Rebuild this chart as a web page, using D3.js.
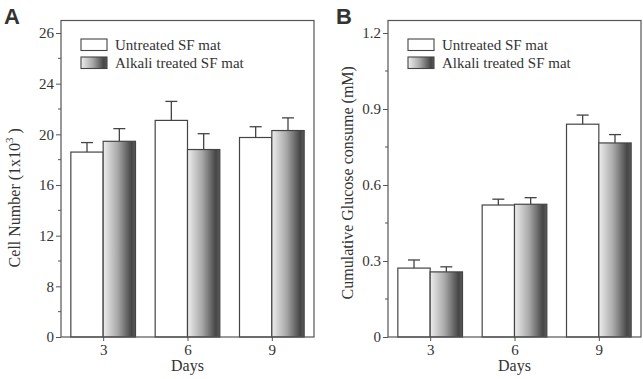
<!DOCTYPE html>
<html>
<head>
<meta charset="utf-8">
<script src="https://cdn.jsdelivr.net/npm/d3@7"></script>
<style>
  body { margin: 0; background: #fff; }
  text { font-family: "Liberation Serif", "Times New Roman", serif; fill: #333; }
</style>
</head>
<body>
<div id="chart"></div>
<script>
const days = [3, 6, 9];
const seriesNames = ['Untreated SF mat', 'Alkali treated SF mat'];

// panel A: cell number (x10^3)
const cellUntreated = [18.6, 21.1, 19.75];
const cellUntreatedErr = [0.75, 1.5, 0.85];
const cellAlkali = [19.45, 18.8, 20.3];
const cellAlkaliErr = [1.0, 1.25, 1.0];
const cellTicks = [0, 8, 12, 16, 20, 24, 26];
const cellMinor = [4, 10, 14, 18, 22, 25];

// panel B: cumulative glucose consume (mM)
const gluUntreated = [0.272, 0.521, 0.84];
const gluUntreatedErr = [0.032, 0.023, 0.036];
const gluAlkali = [0.257, 0.524, 0.766];
const gluAlkaliErr = [0.02, 0.026, 0.033];
const gluTicks = [0, 0.3, 0.6, 0.9, 1.2];
const gluMinor = [0.15, 0.45, 0.75, 1.05];

const options = { width: 643, height: 379 };
const plotTop = 20.5, plotBottom = 337;
const axisColor = '#555';

const svg = d3.select('#chart')
  .append('svg')
  .attr('width', options.width)
  .attr('height', options.height);

const defs = svg.append('defs');
const grad = defs.append('linearGradient')
  .attr('id', 'alkali')
  .attr('x1', '0%').attr('x2', '100%')
  .attr('y1', '0%').attr('y2', '0%');
grad.append('stop').attr('offset', '0%').attr('stop-color', '#eeeeee');
grad.append('stop').attr('offset', '45%').attr('stop-color', '#a8a8a8');
grad.append('stop').attr('offset', '88%').attr('stop-color', '#454545');
grad.append('stop').attr('offset', '100%').attr('stop-color', '#5c5c5c');

function drawPanel(cfg) {
  const x = d3.scaleLinear().domain([1.5, 10.5]).range([cfg.left, cfg.right]);
  const y = cfg.y;
  const g = svg.append('g');
  const bw = x(1.15) - x(0);

  const bars = [
    { vals: cfg.a, errs: cfg.aErr, off: -1, fill: '#fff' },
    { vals: cfg.b, errs: cfg.bErr, off: 0, fill: 'url(#alkali)' },
  ];

  bars.forEach(s => {
    days.forEach((d, i) => {
      const x0 = x(d) + s.off * bw;
      const cx = x0 + bw / 2;
      const top = y(s.vals[i]);
      const etop = y(s.vals[i] + s.errs[i]);
      g.append('line')
        .attr('x1', cx).attr('x2', cx)
        .attr('y1', top).attr('y2', etop)
        .attr('stroke', '#444').attr('stroke-width', 1.3);
      g.append('line')
        .attr('x1', cx - 6).attr('x2', cx + 6)
        .attr('y1', etop).attr('y2', etop)
        .attr('stroke', '#444').attr('stroke-width', 1.3);
      g.append('rect')
        .attr('x', x0).attr('y', top)
        .attr('width', bw).attr('height', plotBottom - top)
        .attr('fill', s.fill)
        .attr('stroke', '#444').attr('stroke-width', 1.2);
    });
  });

  // frame
  g.append('rect')
    .attr('x', cfg.left).attr('y', plotTop)
    .attr('width', cfg.right - cfg.left).attr('height', plotBottom - plotTop)
    .attr('fill', 'none').attr('stroke', axisColor).attr('stroke-width', 1.2);

  // y axis
  const yAxis = g.append('g')
    .attr('transform', `translate(${cfg.left},0)`)
    .call(d3.axisLeft(y).tickValues(cfg.ticks).tickSize(5).tickPadding(2).tickFormat(cfg.fmt));
  yAxis.select('.domain').remove();
  yAxis.selectAll('line').attr('stroke', axisColor);
  yAxis.selectAll('text')
    .attr('font-size', 15)
    .style('font-family', '"Liberation Serif", serif')
    .attr('fill', '#333');
  g.append('g')
    .selectAll('line')
    .data(cfg.minor)
    .enter()
    .append('line')
    .attr('x1', cfg.left - 3).attr('x2', cfg.left)
    .attr('y1', d => y(d)).attr('y2', d => y(d))
    .attr('stroke', axisColor);

  // x axis
  const xAxis = g.append('g')
    .attr('transform', `translate(0,${plotBottom})`)
    .call(d3.axisBottom(x).tickValues(days).tickSize(4).tickPadding(3));
  xAxis.select('.domain').remove();
  xAxis.selectAll('line').attr('stroke', axisColor);
  xAxis.selectAll('text')
    .attr('font-size', 15)
    .style('font-family', '"Liberation Serif", serif')
    .attr('fill', '#333');

  g.append('text')
    .attr('x', (cfg.left + cfg.right) / 2)
    .attr('y', 371)
    .attr('text-anchor', 'middle')
    .attr('font-size', 16)
    .text('Days');

  // y title
  const yt = g.append('text')
    .attr('transform', `translate(${cfg.titleX},${(plotTop + plotBottom) / 2 + cfg.titleShift}) rotate(-90)`)
    .attr('text-anchor', 'middle')
    .attr('font-size', 16);
  cfg.title(yt);

  // panel letter
  g.append('text')
    .attr('x', cfg.letterX).attr('y', 24)
    .style('font-family', '"Liberation Sans", Arial, sans-serif')
    .attr('font-weight', 'bold')
    .attr('font-size', 22)
    .attr('fill', '#111')
    .text(cfg.letter);

  // legend
  const lg = g.append('g').attr('transform', `translate(${cfg.left + 20},39)`);
  seriesNames.forEach((name, i) => {
    lg.append('rect')
      .attr('x', 0).attr('y', i * 18)
      .attr('width', 26).attr('height', 11.5)
      .attr('fill', i === 0 ? '#fff' : 'url(#alkali)')
      .attr('stroke', '#444').attr('stroke-width', 1.1);
    lg.append('text')
      .attr('x', 34).attr('y', i * 18 + 11)
      .attr('font-size', 15)
      .text(name);
  });
}

// panel A uses a broken (piecewise) y axis with evenly spaced major ticks
const stepA = (plotBottom - 33) / (cellTicks.length - 1);
const yA = d3.scaleLinear()
  .domain(cellTicks.concat([26.5]))
  .range(cellTicks.map((d, i) => plotBottom - i * stepA).concat([plotTop]));

drawPanel({
  left: 61, right: 314, y: yA,
  a: cellUntreated, aErr: cellUntreatedErr,
  b: cellAlkali, bErr: cellAlkaliErr,
  ticks: cellTicks, minor: cellMinor, fmt: d3.format('d'),
  letter: 'A', letterX: 4, titleX: 20, titleShift: 19,
  title: t => {
    t.append('tspan').text('Cell Number (1x10');
    t.append('tspan').attr('dy', -7).attr('font-size', 11).text('3');
    t.append('tspan').attr('dy', 7).text(' )');
  },
});

const yB = d3.scaleLinear().domain([0, 1.2]).range([plotBottom, 33]);

drawPanel({
  left: 388, right: 641, y: yB,
  a: gluUntreated, aErr: gluUntreatedErr,
  b: gluAlkali, bErr: gluAlkaliErr,
  ticks: gluTicks, minor: gluMinor, fmt: d => d === 0 ? '0' : d3.format('.1f')(d),
  letter: 'B', letterX: 336, titleX: 353, titleShift: 4,
  title: t => t.text('Cumulative Glucose consume (mM)'),
});
</script>
</body>
</html>
